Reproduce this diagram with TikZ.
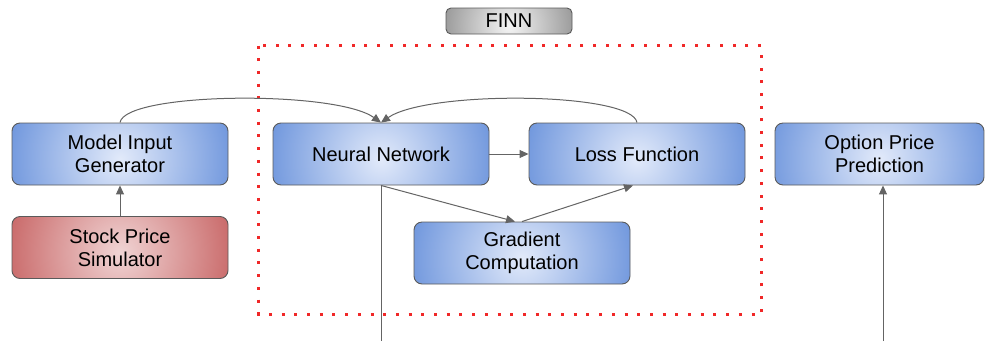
\documentclass[tikz,border=0pt]{standalone}
\usepackage{fontspec}
\setmainfont{Liberation Sans}
\usetikzlibrary{arrows.meta}
\definecolor{bluein}{RGB}{226,234,250}
\definecolor{blueout}{RGB}{108,148,220}
\definecolor{redin}{RGB}{240,212,212}
\definecolor{redout}{RGB}{200,102,102}
\definecolor{grayin}{RGB}{245,245,245}
\definecolor{grayout}{RGB}{150,150,150}
\definecolor{edge}{RGB}{90,90,90}
\definecolor{conn}{RGB}{100,100,100}
\definecolor{dotred}{RGB}{240,40,40}
\tikzset{
  box/.style={draw=edge, line width=0.9pt, rounded corners=8pt, minimum width=216pt, minimum height=62pt,
    inner sep=0pt, align=center, font=\fontsize{20}{23}\selectfont, text=black},
  radfill/.style n args={3}{path picture={\shade[inner color=#1, outer color=#2]
      ([yshift=-5pt]path picture bounding box.center) circle[radius=#3];}},
  bluebox/.style={box, radfill={bluein}{blueout}{118pt}},
  redbox/.style={box, radfill={redin}{redout}{118pt}},
  graybox/.style={draw=edge, line width=0.9pt, rounded corners=5pt, minimum width=126pt, minimum height=26pt,
    inner sep=0pt, font=\fontsize{20}{23}\selectfont, radfill={grayin}{grayout}{68pt}},
  conn/.style={draw=conn, line width=1pt, -{Triangle[length=9pt,width=8pt]}},
  plain/.style={draw=conn, line width=1pt},
  finnframe/.style={draw=dotred, line width=3pt, dash pattern=on 3pt off 9.7pt}
}
\begin{document}
\begin{tikzpicture}[x=1pt,y=-1pt]
\useasboundingbox (0,0) rectangle (985,341);
\draw[finnframe] (258.5,45.5) rectangle (761.5,314.5);
\node[graybox] (finn) at (509,21) {FINN};
\node[bluebox] (mig) at (120,154) {Model Input\\Generator};
\node[redbox] (sps) at (120,247.5) {Stock Price\\Simulator};
\node[bluebox] (nn) at (381,154) {Neural Network};
\node[bluebox] (lf) at (637,154) {Loss Function};
\node[bluebox] (gc) at (522,253) {Gradient\\Computation};
\node[bluebox, minimum width=209pt] (opp) at (879.5,154) {Option Price\\Prediction};
\coordinate (nnout) at (381,341);
\coordinate (oppin) at (883,341);
\draw[conn] (sps) -- (mig);
\draw[conn] (nn) -- (lf);
\draw[conn] (mig.north) .. controls (125,92) and (335,90) .. (nn.north);
\draw[conn] (lf.north) .. controls (632,92) and (428,90) .. (nn.north);
\draw[conn] (nn.south) -- ([xshift=-7pt]gc.north);
\draw[conn] (gc.north) -- ([xshift=-4pt]lf.south);
\draw[plain] (nn.south) -- (nnout);
\draw[conn] (oppin) -- (oppin |- opp.south);
\end{tikzpicture}
\end{document}
